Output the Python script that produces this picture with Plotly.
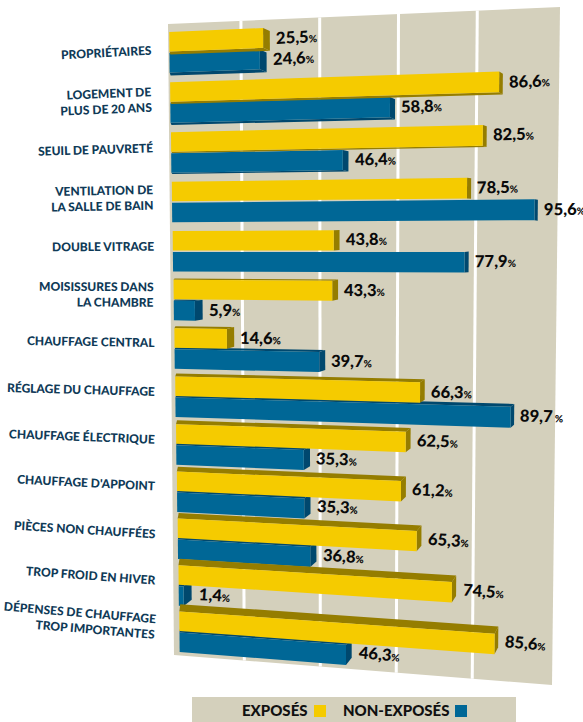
import plotly.graph_objects as go

# ---------- data ----------
categories = ["PROPRIÉTAIRES", "LOGEMENT DE<br>PLUS DE 20 ANS", "SEUIL DE PAUVRETÉ",
              "VENTILATION DE<br>LA SALLE DE BAIN", "DOUBLE VITRAGE",
              "MOISISSURES DANS<br>LA CHAMBRE", "CHAUFFAGE CENTRAL",
              "RÉGLAGE DU CHAUFFAGE", "CHAUFFAGE ÉLECTRIQUE", "CHAUFFAGE D'APPOINT",
              "PIÈCES NON CHAUFFÉES", "TROP FROID EN HIVER",
              "DÉPENSES DE CHAUFFAGE<br>TROP IMPORTANTES"]
exposes = [25.5, 86.6, 82.5, 78.5, 43.8, 43.3, 14.6, 66.3, 62.5, 61.2, 65.3, 74.5, 85.6]
non_exposes = [24.6, 58.8, 46.4, 95.6, 77.9, 5.9, 39.7, 89.7, 35.3, 35.3, 36.8, 1.4, 46.3]
grid_values = [20, 40, 60, 80]
series_names = ["EXPOSÉS", "NON-EXPOSÉS"]

# ---------- style ----------
W, H = 583, 722
PANEL = "#d4d0bc"
YELLOW, YELLOW_DK = "#f5cb00", "#957d00"
BLUE, BLUE_DK = "#006796", "#00486e"
NAVY = "#0f3a57"

# panel corners in the photographed page (the whole chart is seen in perspective)
TL, TR, BR, BL = (168, 24), (560, 7), (552, 685), (174, 655)


def project(u, v):
    top = (TL[0] + (TR[0] - TL[0]) * u, TL[1] + (TR[1] - TL[1]) * u)
    bot = (BL[0] + (BR[0] - BL[0]) * u, BL[1] + (BR[1] - BL[1]) * u)
    return top[0] + (bot[0] - top[0]) * v, top[1] + (bot[1] - top[1]) * v


def value_to_u(val, row):
    return 0.003 + 0.001 * row + 0.00925 * val + 5.5e-6 * val * val


def y_to_v(y_left):
    return (y_left - TL[1]) / (BL[1] - TL[1])


fig = go.Figure()


def poly(pts, color):
    xs = [p[0] for p in pts] + [pts[0][0]]
    ys = [p[1] for p in pts] + [pts[0][1]]
    fig.add_trace(go.Scatter(x=xs, y=ys, mode="lines", fill="toself", fillcolor=color,
                             line=dict(width=0, color=color), hoverinfo="skip", showlegend=False))


poly([TL, TR, BR, BL], PANEL)

for g in grid_values:
    u = -0.015 + 0.01005 * g
    a, b = project(u, 0), project(u, 1)
    fig.add_trace(go.Scatter(x=[a[0], b[0]], y=[a[1], b[1]], mode="lines",
                             line=dict(color="white", width=3), hoverinfo="skip", showlegend=False))


def bar(val, row, y_left, color, dark):
    v0, v1 = y_to_v(y_left), y_to_v(y_left + 19.5)
    u0, u1 = value_to_u(0, row), value_to_u(val, row)
    ftl, ftr = project(u0, v0), project(u1, v0)
    fbl, fbr = project(u0, v1), project(u1, v1)
    dx = 8 - 0.05 * val
    dy = 3 - 0.85 * row
    if dy < 0:
        poly([ftl, ftr, (ftr[0] + dx, ftr[1] + dy), (ftl[0] + 1, ftl[1] + dy)], dark)
    else:
        poly([fbl, fbr, (fbr[0] + dx, fbr[1] + dy), (fbl[0] + 1, fbl[1] + dy)], dark)
    poly([ftr, (ftr[0] + dx, ftr[1] + dy), (fbr[0] + dx, fbr[1] + dy), fbr], dark)
    poly([ftl, ftr, fbr, fbl], color)
    return fbr[0] + dx, (ftr[1] + fbr[1]) / 2


annotations = []


def value_label(val, end_x, end_y, angle):
    sep = " " if val == 89.7 else ""
    txt = f"{val:.1f}".replace(".", ",") + f"<span style='font-size:10px'>{sep}%</span>"
    annotations.append(dict(x=end_x + 4, y=end_y - 1, text=txt, showarrow=False, xanchor="left",
                            yanchor="middle", textangle=angle,
                            font=dict(family="Lato", size=16.5, color="#0a0a0a", weight=900)))


for i, (cat, e, n) in enumerate(zip(categories, exposes, non_exposes)):
    y0 = 32 + 50.5 * i - 0.1875 * i * i
    angle = -3 + 0.65 * i
    nx, ny = bar(n, i, y0 + 21, BLUE, BLUE_DK)
    ex, ey = bar(e, i, y0, YELLOW, YELLOW_DK)
    value_label(e, ex, ey, angle)
    value_label(n, nx, ny, angle)
    annotations.append(dict(x=154 + 0.45 * i, y=52 + 49.25 * i - 0.153 * i * i, text=cat, showarrow=False,
                            xanchor="right", yanchor="middle", align="right", textangle=angle,
                            font=dict(family="Lato", size=12, color=NAVY, weight=900)))

# legend band
poly([(192, 697), (516, 697), (516, 722), (192, 722)], PANEL)
fig.add_trace(go.Scatter(x=[320, 461], y=[711, 711], mode="markers", hoverinfo="skip", showlegend=False,
                         marker=dict(symbol="square", size=12, color=[YELLOW, BLUE], line=dict(width=0))))
for name, right in zip(series_names, [310, 451]):
    annotations.append(dict(x=right, y=710, text=name, showarrow=False, xanchor="right", yanchor="middle",
                            font=dict(family="Lato", size=15, color="#111111", weight=900)))

fig.update_layout(width=W, height=H, margin=dict(l=0, r=0, t=0, b=0), autosize=False,
                  paper_bgcolor="white", plot_bgcolor="white", showlegend=False,
                  xaxis=dict(range=[0, W], visible=False, fixedrange=True),
                  yaxis=dict(range=[H, 0], visible=False, fixedrange=True),
                  annotations=annotations)
fig.write_html("out.html", config={"displayModeBar": False},
               post_script="document.body.style.margin='0';document.documentElement.style.overflow='hidden';")
